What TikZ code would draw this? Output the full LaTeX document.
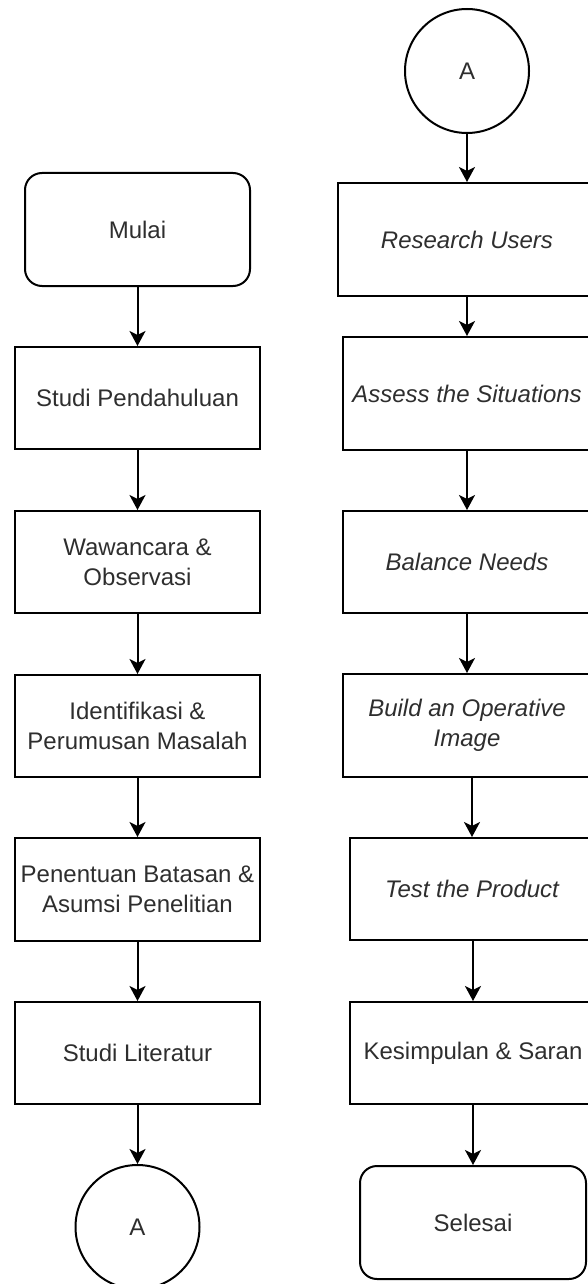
\documentclass[tikz,border=0pt]{standalone}
\usepackage{fontspec}
\setmainfont{Liberation Sans}
\usetikzlibrary{arrows.meta,shapes.geometric}
\begin{document}
\begin{tikzpicture}[x=1pt,y=-1pt,
  every node/.style={font=\fontsize{24}{30}\selectfont, text=black!82, align=center, inner sep=0pt},
  box/.style={draw=black, line width=2pt, rectangle},
  term/.style={draw=black, line width=2pt, rectangle, rounded corners=17pt, minimum width=225pt, minimum height=113pt},
  conn/.style={draw=black, line width=2pt, circle, minimum size=124pt},
  flow/.style={draw=black, line width=2pt, -{Stealth[length=15pt,width=16pt,inset=4pt]}}
]
\useasboundingbox (0,0) rectangle (588,1284);
\clip (0,0) rectangle (588,1284);
% left column
\node[term] (mulai) at (137.5,229.5) {Mulai};
\node[box, minimum width=245pt, minimum height=102pt] (sp) at (137.5,398) {Studi Pendahuluan};
\node[box, minimum width=245pt, minimum height=102pt] (wo) at (137.5,562) {Wawancara \&\\Observasi};
\node[box, minimum width=245pt, minimum height=102pt] (ip) at (137.5,726) {Identifikasi \&\\Perumusan Masalah};
\node[box, minimum width=245pt, minimum height=103pt] (pb) at (137.5,889.5) {Penentuan Batasan \&\\Asumsi Penelitian};
\node[box, minimum width=245pt, minimum height=102pt] (sl) at (137.5,1053) {Studi Literatur};
\node[conn] (a1) at (137.5,1227) {A};
% right column
\node[conn] (a2) at (467,71) {A};
\node[box, minimum width=258pt, minimum height=113pt] (ru) at (467,239.5) {\itshape Research Users};
\node[box, minimum width=248pt, minimum height=113pt] (as) at (467,393.5) {\itshape Assess the Situations};
\node[box, minimum width=248pt, minimum height=102pt] (bn) at (467,562) {\itshape Balance Needs};
\node[box, minimum width=248pt, minimum height=103pt] (bo) at (467,725.5) {\itshape Build an Operative\\\itshape Image};
\node[box, minimum width=244pt, minimum height=102pt] (tp) at (472,889) {\itshape Test the Product};
\node[box, minimum width=246pt, minimum height=102pt] (ks) at (473,1053) {Kesimpulan \& Saran};
\node[term, minimum width=226pt] (selesai) at (473,1222.5) {Selesai};
% connectors
\draw[flow] (mulai) -- (sp);
\draw[flow] (sp) -- (wo);
\draw[flow] (wo) -- (ip);
\draw[flow] (ip) -- (pb);
\draw[flow] (pb) -- (sl);
\draw[flow] (sl) -- (a1);
\draw[flow] (a2) -- (ru);
\draw[flow] (ru) -- (as);
\draw[flow] (as) -- (bn);
\draw[flow] (bn) -- (bo);
\draw[flow] (tp.north |- bo.south) -- (tp.north);
\draw[flow] (ks.north |- tp.south) -- (ks.north);
\draw[flow] (ks) -- (selesai);
\end{tikzpicture}
\end{document}
